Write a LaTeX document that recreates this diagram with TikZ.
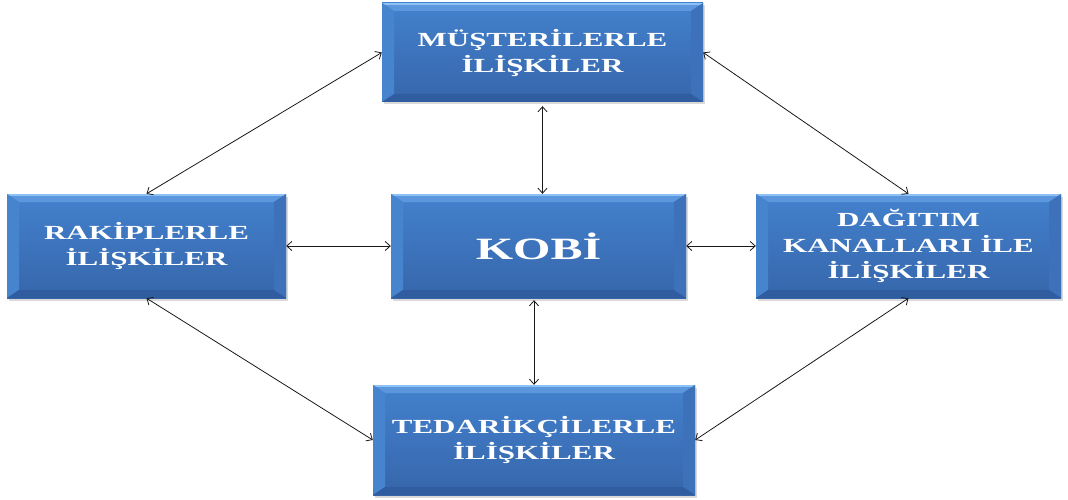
\documentclass[tikz,border=0pt]{standalone}
\usepackage{fontspec}
\setmainfont{Liberation Serif}
\newfontfamily\boxfont{Liberation Serif}[FakeStretch=1.55]
\usetikzlibrary{arrows.meta,shadows,calc}

\definecolor{faceTop}{HTML}{4381CD}
\definecolor{faceBot}{HTML}{3666AB}
\definecolor{bandTop}{HTML}{5C97DD}
\definecolor{bandHi}{HTML}{8EC2F6}
\definecolor{bandLeft}{HTML}{4684CE}
\definecolor{bandRight}{HTML}{3D71B9}
\definecolor{bandBot}{HTML}{305D9F}

\tikzset{
  bevelbox/.style={
    rectangle, inner sep=0pt, align=center,
    text=white, font=\boxfont\bfseries\fontsize{20}{26}\selectfont,
    top color=faceTop, bottom color=faceBot,
    drop shadow={fill=black!60, opacity=0.25, shadow xshift=1.5pt, shadow yshift=-2.5pt},
    path picture={
      \coordinate (bvnw) at (path picture bounding box.north west);
      \coordinate (bvne) at (path picture bounding box.north east);
      \coordinate (bvsw) at (path picture bounding box.south west);
      \coordinate (bvse) at (path picture bounding box.south east);
      % bevel bands: top, left, right, bottom
      \fill[bandTop] (bvnw) -- (bvne) -- ([shift={(-12pt,-8pt)}]bvne) -- ([shift={(12pt,-8pt)}]bvnw) -- cycle;
      \fill[bandHi] (bvnw) rectangle ([shift={(0pt,-2pt)}]bvne);
      \fill[bandLeft] (bvnw) -- ([shift={(12pt,-8pt)}]bvnw) -- ([shift={(12pt,8pt)}]bvsw) -- (bvsw) -- cycle;
      \fill[bandRight] (bvne) -- ([shift={(-12pt,-8pt)}]bvne) -- ([shift={(-12pt,8pt)}]bvse) -- (bvse) -- cycle;
      \fill[bandBot] (bvsw) -- ([shift={(12pt,8pt)}]bvsw) -- ([shift={(-12pt,8pt)}]bvse) -- (bvse) -- cycle;
    }
  },
  link/.style={draw=black!90, line width=0.8pt, {Straight Barb[length=5pt,width=9pt]}-{Straight Barb[length=5pt,width=9pt]}}
}

\begin{document}
\begin{tikzpicture}[x=1pt,y=-1pt]
  \useasboundingbox (0,0) rectangle (1068,500);

  \node[bevelbox, minimum width=321pt, minimum height=99pt] (musteri) at (542.5,52.5) {MÜŞTERİLERLE\\İLİŞKİLER};
  \node[bevelbox, minimum width=279pt, minimum height=104pt] (rakip) at (146.5,246) {RAKİPLERLE\\İLİŞKİLER};
  \node[bevelbox, minimum width=295pt, minimum height=104pt, font=\boxfont\bfseries\fontsize{31}{36}\selectfont] (kobi) at (538.5,246) {KOBİ};
  \node[bevelbox, minimum width=305pt, minimum height=104pt] (dagitim) at (908.5,246) {DAĞITIM\\KANALLARI İLE\\İLİŞKİLER};
  \node[bevelbox, minimum width=322pt, minimum height=110pt] (tedarik) at (534,440) {TEDARİKÇİLERLE\\İLİŞKİLER};

  \draw[link] (musteri.west) -- (rakip.north);
  \draw[link] (musteri.east) -- (dagitim.north);
  \draw[link, shorten <=4pt] (musteri.south) -- (musteri.south |- kobi.north);
  \draw[link] (rakip.east) -- (kobi.west);
  \draw[link] (kobi.east) -- (dagitim.west);
  \draw[link, shorten <=2pt] (tedarik.north |- kobi.south) -- (tedarik.north);
  \draw[link] (rakip.south) -- (tedarik.west);
  \draw[link] (dagitim.south) -- (tedarik.east);
\end{tikzpicture}
\end{document}
